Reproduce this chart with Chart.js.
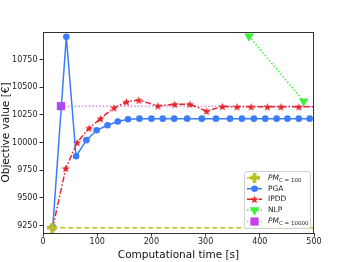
<!DOCTYPE html>
<html>
<head>
<meta charset="utf-8">
<script src="https://cdn.jsdelivr.net/npm/chart.js@4.4.0/dist/chart.umd.min.js"></script>
<style>
  html, body { margin: 0; padding: 0; background: #fff; }
  #wrap { width: 349px; height: 262px; }
</style>
</head>
<body>
<div id="wrap"><canvas id="chart" width="349" height="262"></canvas></div>
<script>
// values
const pgaTime = [18, 43, 61, 80, 99, 119, 138, 157, 178, 200, 221, 242, 266, 293, 319, 345, 367, 389, 410, 431, 451, 472, 492];
const pgaValue = [9235, 10955, 9876, 10021, 10110, 10155, 10190, 10210, 10215, 10215, 10215, 10215, 10215, 10215, 10215, 10215, 10215, 10215, 10215, 10215, 10215, 10215, 10215];
const ipddTime = [18, 42, 63, 85, 106, 131, 154, 177, 212, 243, 271, 302, 331, 358, 384, 414, 439, 472, 510];
const ipddValue = [9233, 9765, 10000, 10130, 10215, 10313, 10367, 10382, 10330, 10345, 10346, 10283, 10325, 10322, 10322, 10322, 10322, 10322, 10322];
const nlpTime = [380, 481];
const nlpValue = [10960, 10372];
const pm100Time = [17, 500];
const pm100Value = [9230, 9230];
const pm10000Time = [33, 500];
const pm10000Value = [10328, 10328];
const xTicks = [0, 100, 200, 300, 400, 500];
const yTicks = [9250, 9500, 9750, 10000, 10250, 10500, 10750];

const pts = (xs, ys) => xs.map((x, i) => ({ x: x, y: ys[i] }));
const FONT = "'DejaVu Sans', sans-serif";

// filled marker images (matplotlib '*' and 'P')
function starImage(color, r) {
  const c = document.createElement("canvas");
  const s = Math.ceil(r * 2 + 2);
  c.width = s; c.height = s;
  const g = c.getContext("2d");
  g.fillStyle = color;
  g.beginPath();
  for (let i = 0; i < 10; i++) {
    const rr = i % 2 === 0 ? r : r * 0.42;
    const ang = -Math.PI / 2 + i * Math.PI / 5;
    const px = s / 2 + rr * Math.cos(ang);
    const py = s / 2 + rr * Math.sin(ang) + r * 0.1;
    if (i === 0) g.moveTo(px, py); else g.lineTo(px, py);
  }
  g.closePath();
  g.fill();
  return c;
}
function plusImage(color, r) {
  const c = document.createElement("canvas");
  const s = Math.ceil(r * 2);
  c.width = s; c.height = s;
  const g = c.getContext("2d");
  g.fillStyle = color;
  const t = s * 0.36;
  g.fillRect((s - t) / 2, 0, t, s);
  g.fillRect(0, (s - t) / 2, s, t);
  return c;
}

const series = [
  { label: "PM", sub: "C = 100", color: "#bcbf22", data: pts(pm100Time, pm100Value), dash: [5, 3],
    style: plusImage("#bcbf22", 5), radius: [5, 0] },
  { label: "PGA", color: "#3b7cfa", data: pts(pgaTime, pgaValue), dash: [],
    style: "circle", radius: 3.3 },
  { label: "IPDD", color: "#e3262b", data: pts(ipddTime, ipddValue), dash: [6, 2, 1.5, 2],
    style: starImage("#e3262b", 4.3), radius: 4 },
  { label: "NLP", color: "#3cf03c", data: pts(nlpTime, nlpValue), dash: [1.5, 2],
    style: "triangle", radius: 5.5, rot: 180 },
  { label: "PM", sub: "C = 10000", color: "#c63ef2", line: "#da8af2", data: pts(pm10000Time, pm10000Value), dash: [1.5, 2],
    style: "rect", radius: [5.8, 0] }
];

const datasets = series.map((s) => ({
  label: s.label,
  data: s.data,
  borderColor: s.line || s.color,
  backgroundColor: s.color,
  borderWidth: 1.5,
  borderDash: s.dash,
  pointStyle: s.style,
  pointRadius: s.radius,
  pointBorderWidth: 0,
  pointBorderColor: s.color,
  pointBackgroundColor: s.color,
  pointRotation: s.rot || 0,
  tension: 0,
  fill: false
}));

const frameAndLegend = {
  id: "frameAndLegend",
  afterDraw(chart) {
    const ctx = chart.ctx;
    const a = chart.chartArea;
    ctx.save();
    ctx.strokeStyle = "#333";
    ctx.lineWidth = 1;
    ctx.strokeRect(a.left + 0.5, a.top + 0.5, a.right - a.left - 1, a.bottom - a.top);

    // legend box
    const bx = 244, by = 171, bw = 66, bh = 57;
    ctx.fillStyle = "rgba(255,255,255,0.85)";
    ctx.strokeStyle = "#d0d0d0";
    ctx.beginPath();
    ctx.roundRect(bx + 0.5, by + 0.5, bw, bh, 2);
    ctx.fill();
    ctx.stroke();

    const rows = [177.7, 188.7, 199.3, 210, 221.5];
    series.forEach((s, i) => {
      const y = rows[i];
      ctx.strokeStyle = s.line || s.color;
      ctx.lineWidth = 1.5;
      ctx.setLineDash(s.dash);
      ctx.beginPath();
      ctx.moveTo(247, y);
      ctx.lineTo(262, y);
      ctx.stroke();
      ctx.setLineDash([]);
      ctx.fillStyle = s.color;
      ctx.strokeStyle = s.color;
      const r = Array.isArray(s.radius) ? s.radius[0] : s.radius;
      Chart.helpers.drawPoint(ctx, { pointStyle: s.style, radius: r, rotation: s.rot || 0, borderWidth: 0 }, 254.5, y);

      ctx.fillStyle = "#222";
      ctx.textBaseline = "middle";
      if (s.sub) {
        ctx.font = "italic 7.5px " + FONT;
        ctx.fillText(s.label, 268, y);
        const w = ctx.measureText(s.label).width;
        ctx.font = "5.5px " + FONT;
        ctx.fillText(s.sub, 268 + w, y + 2.5);
      } else {
        ctx.font = "7.5px " + FONT;
        ctx.fillText(s.label, 268, y);
      }
    });
    ctx.restore();
  }
};

new Chart(document.getElementById("chart"), {
  type: "line",
  data: { datasets: datasets },
  plugins: [frameAndLegend],
  options: {
    responsive: false,
    animation: false,
    layout: { padding: { top: 32, right: 35, left: 0, bottom: 0 } },
    plugins: { legend: { display: false }, tooltip: { enabled: false } },
    scales: {
      x: {
        type: "linear",
        min: 0,
        max: 500,
        afterBuildTicks: (scale) => { scale.ticks = xTicks.map((v) => ({ value: v })); },
        afterFit: (scale) => { scale.height = 29; },
        grid: { display: true, drawOnChartArea: false, drawTicks: true, tickLength: 3.5, color: "#333" },
        border: { display: true, color: "#333" },
        ticks: { color: "#222", font: { family: FONT, size: 8 }, padding: 1, maxRotation: 0, callback: (v) => String(v) },
        title: { display: true, text: "Computational time [s]", color: "#111", font: { family: FONT, size: 10.5 }, padding: { top: 0, bottom: 0 } }
      },
      y: {
        min: 9182,
        max: 10998,
        afterBuildTicks: (scale) => { scale.ticks = yTicks.map((v) => ({ value: v })); },
        afterFit: (scale) => { scale.width = 43; },
        grid: { display: true, drawOnChartArea: false, drawTicks: true, tickLength: 3.5, color: "#333" },
        border: { display: true, color: "#333" },
        ticks: { color: "#222", font: { family: FONT, size: 8 }, padding: 2, callback: (v) => String(v) },
        title: { display: true, text: "Objective value [€]", color: "#111", font: { family: FONT, size: 10.5 }, padding: { top: 0, bottom: 0 } }
      }
    }
  }
});
</script>
</body>
</html>
